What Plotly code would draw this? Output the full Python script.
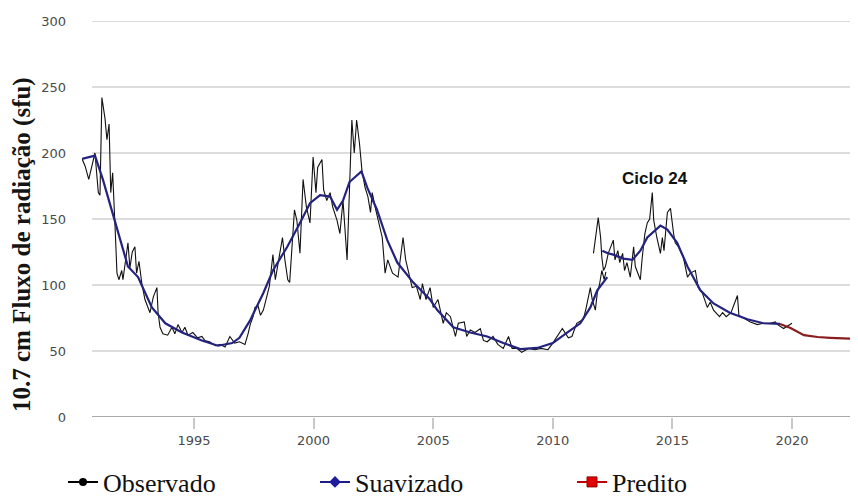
import plotly.graph_objects as go

# ---- data ----
obs1_x = [1990.31, 1990.45, 1990.6, 1990.75, 1990.86, 1991.0, 1991.07, 1991.15, 1991.28, 1991.36,
          1991.45, 1991.52, 1991.6, 1991.7, 1991.78, 1991.86, 1991.98, 1992.03, 1992.15, 1992.24,
          1992.32, 1992.42, 1992.53, 1992.6, 1992.7, 1992.82, 1992.95, 1993.08, 1993.16, 1993.3,
          1993.45, 1993.5, 1993.58, 1993.7, 1993.9, 1994.08, 1994.2, 1994.33, 1994.5, 1994.62,
          1994.75, 1994.95, 1995.15, 1995.33, 1995.45, 1995.65, 1995.9, 1996.1, 1996.3, 1996.5,
          1996.7, 1996.9, 1997.13, 1997.26, 1997.35, 1997.47, 1997.55, 1997.68, 1997.78, 1997.9,
          1998.05, 1998.15, 1998.3, 1998.4, 1998.55, 1998.7, 1998.8, 1998.92, 1999.0, 1999.2,
          1999.3, 1999.43, 1999.56, 1999.7, 1999.85, 1999.98, 2000.1, 2000.17, 2000.35, 2000.42,
          2000.55, 2000.69, 2000.8, 2000.98, 2001.1, 2001.23, 2001.4, 2001.6, 2001.7, 2001.8,
          2001.92, 2002.02, 2002.15, 2002.27, 2002.38, 2002.45, 2002.6, 2002.75, 2002.87, 2002.99,
          2003.1, 2003.3, 2003.53, 2003.74, 2003.85, 2003.98, 2004.12, 2004.3, 2004.46, 2004.55,
          2004.7, 2004.87, 2005.0, 2005.2, 2005.42, 2005.55, 2005.72, 2005.93, 2006.05, 2006.3,
          2006.4, 2006.55, 2006.75, 2006.97, 2007.1, 2007.26, 2007.5, 2007.7, 2007.93, 2008.15,
          2008.3, 2008.5, 2008.7, 2009.0, 2009.25, 2009.5, 2009.8, 2010.0, 2010.3, 2010.4,
          2010.65, 2010.8, 2011.0, 2011.28, 2011.4, 2011.57, 2011.65, 2011.78, 2011.86, 2011.95,
          2012.05, 2012.15, 2012.22]
obs1_y = [196, 190, 180, 193, 200, 170, 168, 242, 226, 210,
          222, 170, 185, 144, 109, 104, 111, 104, 120, 132,
          113, 125, 129, 109, 118, 101, 89, 82, 79, 91,
          98, 79, 68, 63, 62, 68, 63, 70, 64, 68,
          62, 64, 60, 61, 58, 57, 54, 55, 53, 61,
          56, 57, 55, 63, 70, 76, 83, 84, 77, 81,
          92, 99, 123, 104, 120, 136, 119, 104, 102, 157,
          149, 124, 180, 159, 147, 197, 170, 189, 195, 172,
          164, 170, 159, 149, 139, 164, 119, 225, 200, 225,
          207, 187, 174, 167, 155, 170, 157, 145, 136, 109,
          119, 109, 106, 136, 119, 109, 98, 99, 89, 101,
          89, 98, 83, 89, 71, 79, 76, 61, 71, 72,
          61, 66, 64, 67, 58, 57, 61, 55, 52, 61,
          52, 52, 49, 52, 51, 52, 51, 56, 64, 67,
          60, 61, 71, 74, 83, 98, 89, 81, 94, 100,
          111, 104, 110]

obs2_x = [2011.7, 2011.78, 2011.9, 2012.0, 2012.05, 2012.12, 2012.2, 2012.32, 2012.53, 2012.6,
          2012.72, 2012.8, 2012.92, 2013.0, 2013.1, 2013.24, 2013.38, 2013.45, 2013.66, 2013.74,
          2013.85, 2013.95, 2014.05, 2014.16, 2014.22, 2014.35, 2014.5, 2014.58, 2014.65, 2014.79,
          2014.92, 2015.05, 2015.12, 2015.25, 2015.46, 2015.63, 2015.75, 2015.96, 2016.08, 2016.25,
          2016.46, 2016.58, 2016.72, 2016.97, 2017.1, 2017.25, 2017.45, 2017.72, 2017.78, 2017.98,
          2018.26, 2018.55, 2018.8, 2019.1, 2019.3, 2019.4, 2019.65, 2020.0]
obs2_y = [124, 134, 151, 136, 121, 111, 114, 124, 134, 119,
          126, 117, 124, 111, 117, 106, 129, 114, 104, 121,
          139, 147, 150, 170, 149, 136, 124, 136, 126, 155,
          158, 139, 132, 129, 121, 106, 109, 111, 98, 94,
          83, 87, 81, 76, 79, 76, 79, 92, 77, 75,
          72, 70, 71, 71, 72, 70, 67, 71]

smo1_x = [1990.3, 1990.86, 1991.19, 1991.7, 1992.24, 1992.66, 1993.24, 1993.8, 1994.5, 1995.33,
          1996.0, 1996.6, 1996.9, 1997.34, 1997.9, 1998.3, 1998.9, 1999.43, 1999.85, 2000.27,
          2000.69, 2000.98, 2001.23, 2001.5, 2002.0, 2002.24, 2002.65, 2003.08, 2003.5, 2004.16,
          2004.87, 2005.17, 2005.84, 2006.55, 2007.26, 2007.93, 2008.64, 2009.35, 2010.0, 2010.6,
          2011.15, 2011.57, 2011.86, 2012.28]
smo1_y = [195.5, 198, 180, 147, 114, 106, 83, 71, 64, 58,
          54, 56, 60, 73, 94, 111, 129, 147, 162, 168,
          167, 157, 164, 178, 186, 174, 157, 134, 117, 102,
          89, 81, 68, 64, 61, 56, 51.5, 52.3, 56, 64,
          71, 83, 96, 106]

smo2_x = [2012.07, 2012.3, 2012.53, 2012.95, 2013.33, 2013.66, 2013.95, 2014.5, 2014.79, 2015.2,
          2015.63, 2016.17, 2016.72, 2017.4, 2018.14, 2018.8, 2019.5]
smo2_y = [126, 124, 123, 120, 119, 126, 136, 145, 142, 132,
          114, 96, 86, 79, 74, 71, 70.5]

pred_x = [2019.5, 2019.94, 2020.5, 2021.07, 2021.6, 2022.2, 2022.8]
pred_y = [70.5, 67.4, 62, 60.6, 60, 59.3, 59]

y_ticks = [0, 50, 100, 150, 200, 250, 300]
x_ticks = [1995, 2000, 2005, 2010, 2015, 2020]

series_names = ["Observado", "Suavizado", "Predito"]
annotation_text = "Ciclo 24"
y_title = "10.7 cm Fluxo de radiação (sfu)"

# ---- styling ----
OBS_C = "#111111"
SMO_C = "#23237f"
PRED_C = "#8a1d1d"
PLOT_W = 776.0
PLOT_H = 396.0
PAGE_OFF = 8  # default body margin of the html page

fig = go.Figure()

obs_x = obs1_x + [None] + obs2_x
obs_y = obs1_y + [None] + obs2_y
smo_x = smo1_x + [None] + smo2_x
smo_y = smo1_y + [None] + smo2_y

fig.add_trace(go.Scatter(x=obs_x, y=obs_y, mode="lines", line=dict(color=OBS_C, width=1.1),
                         showlegend=False, hoverinfo="skip"))
fig.add_trace(go.Scatter(x=smo_x, y=smo_y, mode="lines", line=dict(color=SMO_C, width=2.2),
                         showlegend=False, hoverinfo="skip"))
fig.add_trace(go.Scatter(x=pred_x, y=pred_y, mode="lines", line=dict(color=PRED_C, width=2.2),
                         showlegend=False, hoverinfo="skip"))

# legend entries (one legend each, to place them like the reference)
fig.add_trace(go.Scatter(x=[None], y=[None], mode="lines+markers", name=series_names[0],
                         line=dict(color="#000000", width=2),
                         marker=dict(symbol="circle", size=8, color="#000000"), legend="legend"))
fig.add_trace(go.Scatter(x=[None], y=[None], mode="lines+markers", name=series_names[1],
                         line=dict(color="#1c1c8c", width=2),
                         marker=dict(symbol="diamond", size=9, color="#1c1c9c"), legend="legend2"))
fig.add_trace(go.Scatter(x=[None], y=[None], mode="lines+markers", name=series_names[2],
                         line=dict(color="#c00000", width=2),
                         marker=dict(symbol="square", size=10, color="#e00000",
                                     line=dict(color="#900000", width=1)), legend="legend3"))

# gridlines starting slightly right of the plot's left edge
for yv in y_ticks:
    fig.add_shape(type="line", xref="paper", yref="y", x0=10 / PLOT_W, x1=1, y0=yv, y1=yv,
                  line=dict(color="#a9a9a9" if yv == 0 else "#dcdcdc", width=2),
                  layer="below")

fig.add_annotation(x=2014.27, y=181, xref="x", yref="y", text="<b>" + annotation_text + "</b>",
                   showarrow=False,
                   font=dict(family="Liberation Sans, Arial", size=17, color="#111111"),
                   xanchor="center", yanchor="middle")

fig.add_annotation(x=(22 - 82) / PLOT_W, y=(417 - 245) / PLOT_H, xref="paper", yref="paper",
                   text="<b>" + y_title + "</b>", textangle=-90, showarrow=False,
                   font=dict(family="Liberation Serif, Times New Roman", size=25, color="#141414"),
                   xanchor="center", yanchor="middle")

leg_font = dict(family="Liberation Serif, Times New Roman", size=26, color="#111111")
leg_y = (417 - 482) / PLOT_H


def leg(px):
    return dict(x=(px - 82) / PLOT_W, y=leg_y, xanchor="left", yanchor="middle",
                orientation="h", font=leg_font, bgcolor="rgba(0,0,0,0)",
                tracegroupgap=0, borderwidth=0)


fig.update_layout(
    width=858, height=497,
    margin=dict(l=82 - PAGE_OFF, r=PAGE_OFF, t=21 - PAGE_OFF, b=497 - 21 - 396 + PAGE_OFF,
                autoexpand=False),
    paper_bgcolor="white", plot_bgcolor="white",
    xaxis=dict(range=[1990.318, 2022.76], tickvals=x_ticks, showgrid=False, zeroline=False,
               showline=False, ticks="outside", ticklen=11, tickcolor="#c8c8c8", tickwidth=1.5,
               automargin=False, ticklabelstandoff=0,
               tickfont=dict(family="DejaVu Sans", size=13, color="#4a4a4a")),
    yaxis=dict(range=[0, 300], tickvals=y_ticks, showgrid=False, zeroline=False, showline=False,
               ticks="", ticklabelstandoff=15, automargin=False,
               tickfont=dict(family="DejaVu Sans", size=13, color="#4a4a4a")),
    legend=leg(63), legend2=leg(315), legend3=leg(572),
    showlegend=True,
)

fig.write_html("out.html")
